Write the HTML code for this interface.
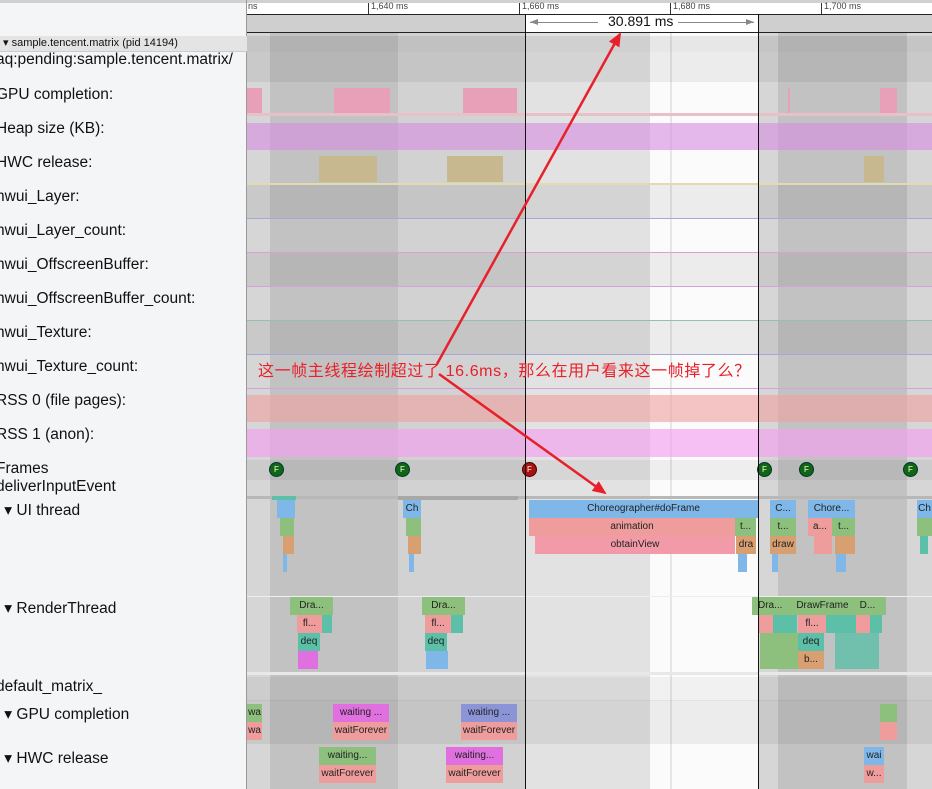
<!DOCTYPE html>
<html><head><meta charset="utf-8"><style>
*{margin:0;padding:0;box-sizing:border-box}
body{width:932px;height:789px;overflow:hidden;position:relative;background:#f4f5f7;font-family:"Liberation Sans",sans-serif}
div{position:absolute}
.l{left:-4px;font-size:15.5px;color:#111;white-space:nowrap}
.s{font-size:10px;color:#222;text-align:center;overflow:hidden;white-space:nowrap}
.b{background:#7fb8e8}.g{background:#8cc07c}.p{background:#ee9c9c}.o{background:#d8a070}.t{background:#5cbfa8}.m{background:#e070e0}.v{background:#8c94d8}.r{background:#f29aa8}
</style></head><body>
<div style="left:247px;top:33px;width:685px;height:756px;background:#d6d6d6"></div>
<div style="left:270px;top:33px;width:128px;height:756px;background:#c2c2c2"></div>
<div style="left:398px;top:33px;width:127px;height:756px;background:#d2d2d2"></div>
<div style="left:525px;top:33px;width:125px;height:756px;background:#e2e2e2"></div>
<div style="left:650px;top:33px;width:108px;height:756px;background:#fbfbfb"></div>
<div style="left:670px;top:33px;width:2px;height:756px;background:#e6e6e6"></div>
<div style="left:778px;top:33px;width:129px;height:756px;background:#c2c2c2"></div>
<div style="left:247px;top:52px;width:685px;height:30px;background:rgba(0,0,0,.06)"></div>
<div style="left:247px;top:184px;width:685px;height:34px;background:rgba(0,0,0,.06)"></div>
<div style="left:247px;top:252px;width:685px;height:34px;background:rgba(0,0,0,.06)"></div>
<div style="left:247px;top:320px;width:685px;height:34px;background:rgba(0,0,0,.06)"></div>
<div style="left:247px;top:460px;width:685px;height:20px;background:rgba(0,0,0,.05)"></div>
<div style="left:247px;top:677px;width:685px;height:24px;background:rgba(0,0,0,.04)"></div>
<div style="left:247px;top:700px;width:685px;height:44px;background:rgba(0,0,0,.06)"></div>
<div style="left:247px;top:183px;width:685px;height:2px;background:#e0dcb0"></div>
<div style="left:247px;top:218px;width:685px;height:1px;background:#a8a8d8"></div>
<div style="left:247px;top:252px;width:685px;height:1px;background:#d8a0d8"></div>
<div style="left:247px;top:286px;width:685px;height:1px;background:#d8a0d8"></div>
<div style="left:247px;top:320px;width:685px;height:1px;background:#98c0a8"></div>
<div style="left:247px;top:354px;width:685px;height:1px;background:#a8a8d8"></div>
<div style="left:247px;top:388px;width:685px;height:1px;background:#d8a0d8"></div>
<div style="left:247px;top:596px;width:685px;height:1px;background:#eee"></div>
<div style="left:247px;top:672px;width:685px;height:3px;background:#e8e8e8"></div>
<div style="left:247px;top:88px;width:15px;height:25px;background:#e8a0b8"></div>
<div style="left:334px;top:88px;width:56px;height:25px;background:#e8a0b8"></div>
<div style="left:463px;top:88px;width:54px;height:25px;background:#e8a0b8"></div>
<div style="left:788px;top:88px;width:2px;height:25px;background:#e8a0b8"></div>
<div style="left:880px;top:88px;width:17px;height:25px;background:#e8a0b8"></div>
<div style="left:247px;top:113px;width:685px;height:3px;background:#e8c0c8"></div>
<div style="left:247px;top:123px;width:685px;height:27px;background:rgba(215,140,225,.6)"></div>
<div style="left:319px;top:156px;width:58px;height:26px;background:#c8b890"></div>
<div style="left:447px;top:156px;width:56px;height:26px;background:#c8b890"></div>
<div style="left:864px;top:156px;width:20px;height:26px;background:#c8b890"></div>
<div style="left:247px;top:395px;width:685px;height:27px;background:rgba(240,160,160,.6)"></div>
<div style="left:247px;top:429px;width:685px;height:28px;background:rgba(245,160,240,.65)"></div>
<div style="left:0;top:0;width:932px;height:3px;background:#d0d0d0"></div>
<div style="left:247px;top:3px;width:685px;height:12px;background:#fff"></div>
<div style="left:247px;top:14px;width:685px;height:1px;background:#222"></div>
<div style="left:247px;top:15px;width:685px;height:18px;background:#cfcfcf"></div>
<div style="left:525px;top:15px;width:233px;height:18px;background:#fff"></div>
<div style="left:247px;top:32px;width:685px;height:1px;background:#222"></div>
<div style="left:248px;top:1px;font-size:9px;color:#444">ns</div>
<div style="left:368px;top:3px;width:1px;height:11px;background:#333"></div><div style="left:371px;top:1px;font-size:9px;color:#444">1,640 ms</div>
<div style="left:519px;top:3px;width:1px;height:11px;background:#333"></div><div style="left:522px;top:1px;font-size:9px;color:#444">1,660 ms</div>
<div style="left:670px;top:3px;width:1px;height:11px;background:#333"></div><div style="left:673px;top:1px;font-size:9px;color:#444">1,680 ms</div>
<div style="left:821px;top:3px;width:1px;height:11px;background:#333"></div><div style="left:824px;top:1px;font-size:9px;color:#444">1,700 ms</div>
<div style="left:530px;top:22px;width:68px;height:1px;background:#888"></div>
<div style="left:678px;top:22px;width:76px;height:1px;background:#888"></div>
<div style="left:608px;top:13px;font-size:14px;color:#111">30.891 ms</div>
<div style="left:0;top:3px;width:247px;height:786px;background:#f4f5f7"></div>
<div style="left:246px;top:0;width:1px;height:789px;background:#999"></div>
<div style="left:0;top:36px;width:247px;height:16px;background:#e4e4e4;border-bottom:1px solid #ccc"></div>
<div style="left:247px;top:36px;width:685px;height:16px;background:rgba(0,0,0,.08)"></div>
<div class="l" style="top:36px;font-size:11px;left:3px">▾ sample.tencent.matrix (pid 14194)</div>
<div class="l" style="top:51px">aq:pending:sample.tencent.matrix/</div>
<div class="l" style="top:86px">GPU completion:</div>
<div class="l" style="top:120px">Heap size (KB):</div>
<div class="l" style="top:154px">HWC release:</div>
<div class="l" style="top:188px">hwui_Layer:</div>
<div class="l" style="top:222px">hwui_Layer_count:</div>
<div class="l" style="top:256px">hwui_OffscreenBuffer:</div>
<div class="l" style="top:290px">hwui_OffscreenBuffer_count:</div>
<div class="l" style="top:324px">hwui_Texture:</div>
<div class="l" style="top:358px">hwui_Texture_count:</div>
<div class="l" style="top:392px">RSS 0 (file pages):</div>
<div class="l" style="top:426px">RSS 1 (anon):</div>
<div class="l" style="top:460px">Frames</div>
<div class="l" style="top:478px">deliverInputEvent</div>
<div class="l" style="top:501px;left:0">&nbsp;▾ UI thread</div>
<div class="l" style="top:599px;left:0">&nbsp;▾ RenderThread</div>
<div class="l" style="top:678px">default_matrix_</div>
<div class="l" style="top:705px;left:0">&nbsp;▾ GPU completion</div>
<div class="l" style="top:749px;left:0">&nbsp;▾ HWC release</div>
<div style="left:269px;top:462px;width:15px;height:15px;border-radius:50%;background:#116611;border:1px solid #033;color:#fff;font-size:8px;text-align:center;line-height:13px">F</div>
<div style="left:395px;top:462px;width:15px;height:15px;border-radius:50%;background:#116611;border:1px solid #033;color:#fff;font-size:8px;text-align:center;line-height:13px">F</div>
<div style="left:522px;top:462px;width:15px;height:15px;border-radius:50%;background:#aa1111;border:1px solid #400;color:#fff;font-size:8px;text-align:center;line-height:13px">F</div>
<div style="left:757px;top:462px;width:15px;height:15px;border-radius:50%;background:#116611;border:1px solid #033;color:#fff;font-size:8px;text-align:center;line-height:13px">F</div>
<div style="left:799px;top:462px;width:15px;height:15px;border-radius:50%;background:#116611;border:1px solid #033;color:#fff;font-size:8px;text-align:center;line-height:13px">F</div>
<div style="left:903px;top:462px;width:15px;height:15px;border-radius:50%;background:#116611;border:1px solid #033;color:#fff;font-size:8px;text-align:center;line-height:13px">F</div>
<div style="left:247px;top:496px;width:685px;height:3px;background:#b8b8b8"></div>
<div class="t" style="left:272px;top:496px;width:24px;height:4px"></div>
<div class="t" style="left:398px;top:496px;width:120px;height:4px;background:#a8a8a8"></div>
<div class="s b" style="left:277px;top:500px;width:18px;height:18px"></div>
<div class="s g" style="left:280px;top:518px;width:14px;height:18px"></div>
<div class="s o" style="left:283px;top:536px;width:11px;height:18px"></div>
<div class="s b" style="left:283px;top:554px;width:4px;height:18px"></div>
<div class="s b" style="left:403px;top:500px;width:18px;height:18px;line-height:18px">Ch</div>
<div class="s g" style="left:406px;top:518px;width:15px;height:18px"></div>
<div class="s o" style="left:408px;top:536px;width:13px;height:18px"></div>
<div class="s b" style="left:409px;top:554px;width:5px;height:18px"></div>
<div class="s b" style="left:529px;top:500px;width:229px;height:18px;line-height:18px">Choreographer#doFrame</div>
<div class="s p" style="left:529px;top:518px;width:206px;height:18px;line-height:18px">animation</div>
<div class="s g" style="left:735px;top:518px;width:21px;height:18px;line-height:18px">t...</div>
<div class="s r" style="left:535px;top:536px;width:200px;height:18px;line-height:18px">obtainView</div>
<div class="s o" style="left:736px;top:536px;width:20px;height:18px;line-height:18px">dra</div>
<div class="s b" style="left:738px;top:554px;width:9px;height:18px"></div>
<div class="s b" style="left:770px;top:500px;width:26px;height:18px;line-height:18px">C...</div>
<div class="s g" style="left:770px;top:518px;width:26px;height:18px;line-height:18px">t...</div>
<div class="s o" style="left:770px;top:536px;width:26px;height:18px;line-height:18px">draw</div>
<div class="s b" style="left:772px;top:554px;width:6px;height:18px"></div>
<div class="s b" style="left:808px;top:500px;width:47px;height:18px;line-height:18px">Chore...</div>
<div class="s p" style="left:808px;top:518px;width:24px;height:18px;line-height:18px">a...</div>
<div class="s g" style="left:832px;top:518px;width:23px;height:18px;line-height:18px">t...</div>
<div class="s p" style="left:814px;top:536px;width:18px;height:18px"></div>
<div class="s o" style="left:835px;top:536px;width:20px;height:18px"></div>
<div class="s b" style="left:836px;top:554px;width:10px;height:18px"></div>
<div class="s b" style="left:917px;top:500px;width:15px;height:18px;line-height:18px">Ch</div>
<div class="s g" style="left:917px;top:518px;width:15px;height:18px"></div>
<div class="s t" style="left:920px;top:536px;width:8px;height:18px"></div>
<div class="s g" style="left:290px;top:597px;width:43px;height:18px;line-height:18px">Dra...</div>
<div class="s p" style="left:297px;top:615px;width:25px;height:18px;line-height:18px">fl...</div>
<div class="s t" style="left:322px;top:615px;width:10px;height:18px"></div>
<div class="s t" style="left:298px;top:633px;width:22px;height:18px;line-height:18px">deq</div>
<div class="s m" style="left:298px;top:651px;width:20px;height:18px"></div>
<div class="s g" style="left:422px;top:597px;width:43px;height:18px;line-height:18px">Dra...</div>
<div class="s p" style="left:425px;top:615px;width:26px;height:18px;line-height:18px">fl...</div>
<div class="s t" style="left:451px;top:615px;width:12px;height:18px"></div>
<div class="s t" style="left:425px;top:633px;width:22px;height:18px;line-height:18px">deq</div>
<div class="s b" style="left:426px;top:651px;width:22px;height:18px"></div>
<div class="s g" style="left:752px;top:597px;width:134px;height:18px;line-height:18px;text-align:left;padding-left:6px">Dra...&nbsp;&nbsp;&nbsp;&nbsp;&nbsp;DrawFrame&nbsp;&nbsp;&nbsp;&nbsp;D...</div>
<div class="s p" style="left:759px;top:615px;width:14px;height:18px"></div>
<div class="s t" style="left:773px;top:615px;width:24px;height:18px"></div>
<div class="s p" style="left:798px;top:615px;width:28px;height:18px;line-height:18px">fl...</div>
<div class="s t" style="left:826px;top:615px;width:30px;height:18px"></div>
<div class="s p" style="left:856px;top:615px;width:14px;height:18px"></div>
<div class="s t" style="left:870px;top:615px;width:12px;height:18px"></div>
<div class="s g" style="left:760px;top:633px;width:38px;height:36px"></div>
<div class="s t" style="left:798px;top:633px;width:26px;height:18px;line-height:18px">deq</div>
<div class="s o" style="left:798px;top:651px;width:26px;height:18px;line-height:18px">b...</div>
<div class="s t" style="left:835px;top:633px;width:44px;height:36px;opacity:.8"></div>
<div class="s g" style="left:247px;top:704px;width:15px;height:18px;line-height:18px">wa</div>
<div class="s p" style="left:247px;top:722px;width:15px;height:18px;line-height:18px">wa</div>
<div class="s m" style="left:333px;top:704px;width:56px;height:18px;line-height:18px">waiting ...</div>
<div class="s p" style="left:333px;top:722px;width:56px;height:18px;line-height:18px">waitForever</div>
<div class="s v" style="left:461px;top:704px;width:56px;height:18px;line-height:18px">waiting ...</div>
<div class="s p" style="left:461px;top:722px;width:56px;height:18px;line-height:18px">waitForever</div>
<div class="s g" style="left:880px;top:704px;width:17px;height:18px"></div>
<div class="s p" style="left:880px;top:722px;width:17px;height:18px"></div>
<div class="s g" style="left:319px;top:747px;width:57px;height:18px;line-height:18px">waiting...</div>
<div class="s p" style="left:319px;top:765px;width:57px;height:18px;line-height:18px">waitForever</div>
<div class="s m" style="left:446px;top:747px;width:57px;height:18px;line-height:18px">waiting...</div>
<div class="s p" style="left:446px;top:765px;width:57px;height:18px;line-height:18px">waitForever</div>
<div class="s b" style="left:864px;top:747px;width:20px;height:18px;line-height:18px">wai</div>
<div class="s p" style="left:864px;top:765px;width:20px;height:18px;line-height:18px">w...</div>
<div style="left:525px;top:14px;width:1px;height:775px;background:#111"></div>
<div style="left:758px;top:14px;width:1px;height:775px;background:#111"></div>
<div style="left:258px;top:357px;font-size:16px;letter-spacing:0.6px;color:#e8202a;white-space:nowrap;font-family:'Liberation Sans','Noto Sans CJK SC',sans-serif">这一帧主线程绘制超过了 16.6ms，那么在用户看来这一帧掉了么？</div>
<svg style="position:absolute;left:0;top:0" width="932" height="789">
<defs><marker id="a" markerWidth="14" markerHeight="12" refX="12" refY="6" orient="auto" markerUnits="userSpaceOnUse"><path d="M0,0 L14,6 L0,12 z" fill="#e8202a"/></marker></defs>
<line x1="437" y1="364" x2="620" y2="34" stroke="#e8202a" stroke-width="2.5" marker-end="url(#a)"/>
<line x1="439" y1="374" x2="605" y2="493" stroke="#e8202a" stroke-width="2.5" marker-end="url(#a)"/>
<path d="M530,22 l8,-3 v6z M754,22 l-8,-3 v6z" fill="#888"/>
</svg>
</body></html>
